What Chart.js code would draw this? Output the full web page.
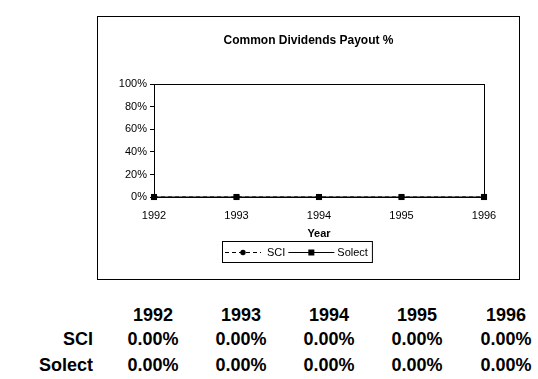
<!DOCTYPE html>
<html>
<head>
<meta charset="utf-8">
<script src="https://cdn.jsdelivr.net/npm/chart.js@4"></script>
<style>
  html, body { margin: 0; padding: 0; background: #fff; }
  body { width: 538px; height: 379px; position: relative; overflow: hidden; font-family: "Liberation Sans", Arial, sans-serif; }
  #wrap { position: absolute; left: 97px; top: 16px; width: 423px; height: 264px; }
  .cell { position: absolute; font-weight: bold; font-size: 18px; line-height: 20px; white-space: nowrap; color: #000; }
</style>
</head>
<body>
<div id="wrap"><canvas id="c" width="423" height="264"></canvas></div>
<div id="table"></div>
<script>
const years = ['1992', '1993', '1994', '1995', '1996'];
const sci = [0, 0, 0, 0, 0];
const solect = [0, 0, 0, 0, 0];
const yTicks = [0, 20, 40, 60, 80, 100];
const seriesNames = ['SCI', 'Solect'];
const chartTitle = 'Common Dividends Payout %';
const xTitle = 'Year';

const FONT = '"Liberation Sans", Arial, sans-serif';

const framePlugin = {
  id: 'frame',
  afterDraw(chart) {
    const ctx = chart.ctx;
    const a = chart.chartArea;
    ctx.save();
    ctx.strokeStyle = '#000';
    ctx.lineWidth = 1;
    ctx.strokeRect(0.5, 0.5, chart.width - 1, chart.height - 1);
    ctx.strokeRect(Math.round(a.left) + 0.5, Math.round(a.top) + 0.5, Math.round(a.right - a.left), Math.round(a.bottom - a.top));
    ctx.restore();
  }
};

const legendPlugin = {
  id: 'boxLegend',
  afterDraw(chart) {
    const ctx = chart.ctx;
    const sets = chart.data.datasets;
    const lineLens = [36, 46];
    const left = 125, top = 225, height = 21, pad = 3;
    const cy = top + height / 2;
    ctx.save();
    ctx.font = '11px ' + FONT;
    ctx.textBaseline = 'middle';
    ctx.textAlign = 'left';
    ctx.fillStyle = '#000';
    let x = left + pad;
    sets.forEach((ds, i) => {
      const L = lineLens[i];
      ctx.strokeStyle = '#000';
      ctx.lineWidth = 1;
      ctx.setLineDash(ds.borderDash || []);
      ctx.beginPath();
      ctx.moveTo(x, Math.round(cy) + 0.5);
      ctx.lineTo(x + L, Math.round(cy) + 0.5);
      ctx.stroke();
      ctx.setLineDash([]);
      const mx = x + L / 2;
      ctx.beginPath();
      if (ds.pointStyle === 'rect') {
        ctx.rect(mx - 3, Math.round(cy) - 2.5, 6, 6);
      } else {
        ctx.arc(mx, Math.round(cy) + 0.5, 2.7, 0, Math.PI * 2);
      }
      ctx.fill();
      const tx = x + L + (i === 0 ? 6 : 3);
      ctx.fillText(ds.label, tx, cy + 1);
      x = tx + ctx.measureText(ds.label).width + 3;
    });
    const right = x + 1;
    ctx.strokeRect(left + 0.5, top + 0.5, right - left, height);
    ctx.restore();
  }
};

new Chart(document.getElementById('c'), {
  type: 'line',
  data: {
    labels: years,
    datasets: [
      {
        label: seriesNames[0], data: sci, borderColor: '#000', backgroundColor: '#000',
        borderWidth: 1, borderDash: [4, 3], pointStyle: 'circle', pointRadius: 3,
        pointBorderWidth: 0, order: 1, clip: false, tension: 0
      },
      {
        label: seriesNames[1], data: solect, borderColor: '#000', backgroundColor: '#000',
        borderWidth: 1, pointStyle: 'rect', pointRadius: 4.3,
        pointBorderWidth: 0, order: 0, clip: false, tension: 0
      }
    ]
  },
  options: {
    responsive: false,
    animation: false,
    events: [],
    layout: { padding: 0 },
    plugins: {
      legend: { display: false },
      tooltip: { enabled: false },
      title: {
        display: true, text: chartTitle, color: '#000',
        font: { family: FONT, size: 12, weight: 'bold' },
        padding: { top: 17, bottom: 37 }
      }
    },
    scales: {
      x: {
        type: 'category', offset: false,
        grid: { display: false },
        border: { display: true, color: '#000', width: 1 },
        ticks: { color: '#000', font: { family: FONT, size: 11 }, padding: 4, maxRotation: 0, autoSkip: false },
        title: { display: true, text: xTitle, color: '#000', font: { family: FONT, size: 11, weight: 'bold' }, padding: { top: 0, bottom: 39 } },
        afterFit(s) { s.height = 83; }
      },
      y: {
        min: 0, max: 100,
        afterBuildTicks(s) { s.ticks = yTicks.map(v => ({ value: v })); },
        grid: { display: true, drawOnChartArea: false, drawTicks: true, tickLength: 4, color: '#000' },
        border: { display: true, color: '#000', width: 1 },
        ticks: { color: '#000', font: { family: FONT, size: 11 }, padding: 3, callback: v => v + '%' },
        afterFit(s) { s.width = 57; }
      },
      y2: {
        position: 'right', min: 0, max: 100,
        grid: { display: false },
        border: { display: false },
        ticks: { display: false },
        afterFit(s) { s.width = 36; }
      }
    }
  },
  plugins: [framePlugin, legendPlugin]
});

// data table below chart
const table = document.getElementById('table');
const colCenters = [153, 241, 329, 417, 506];
const rowCenters = [315, 339, 365];
function addCell(text, cx, cy, align) {
  const d = document.createElement('div');
  d.className = 'cell';
  d.textContent = text;
  if (align === 'right') {
    d.style.right = (538 - cx) + 'px';
    d.style.textAlign = 'right';
  } else {
    d.style.left = (cx - 45) + 'px';
    d.style.width = '90px';
    d.style.textAlign = 'center';
  }
  d.style.top = (cy - 10) + 'px';
  table.appendChild(d);
}
years.forEach((y, i) => addCell(y, colCenters[i], rowCenters[0]));
[[seriesNames[0], sci], [seriesNames[1], solect]].forEach(([name, vals], r) => {
  addCell(name, 93, rowCenters[r + 1], 'right');
  vals.forEach((v, i) => addCell(v.toFixed(2) + '%', colCenters[i], rowCenters[r + 1]));
});
</script>
</body>
</html>
